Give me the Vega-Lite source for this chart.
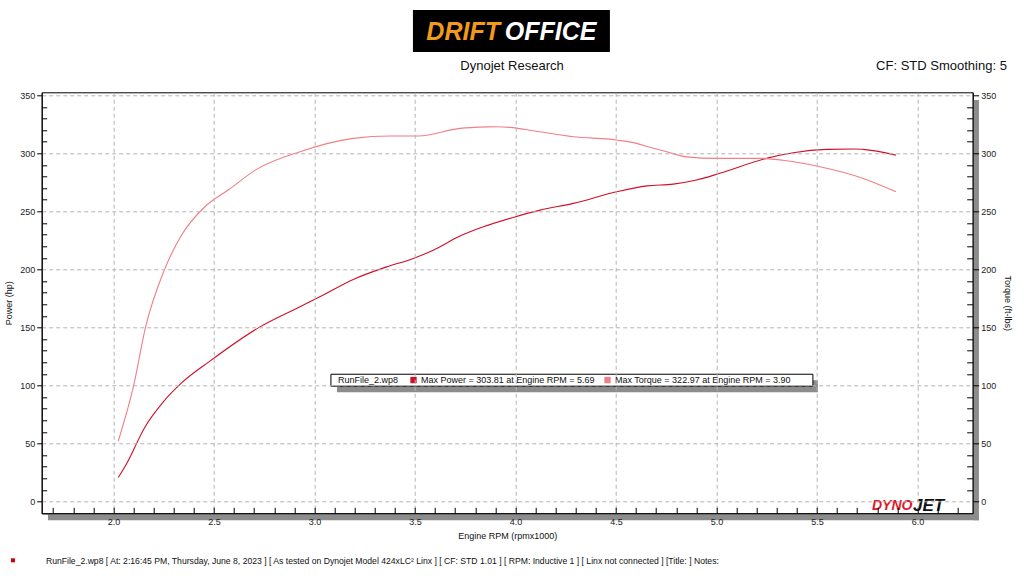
{
  "$schema": "https://vega.github.io/schema/vega-lite/v6.json",
  "width": 931,
  "height": 421,
  "autosize": {"type": "none"},
  "padding": {"left": 41.7, "top": 92.3, "right": 51.3, "bottom": 62.7},
  "background": "white",
  "config": {
    "view": {"stroke": "black", "strokeWidth": 1},
    "font": "Liberation Sans"
  },
  "datasets": {
    "power": [
      {"rpm": 2.024, "hp": 20.7},
      {"rpm": 2.066, "hp": 32.8},
      {"rpm": 2.157, "hp": 64.3},
      {"rpm": 2.248, "hp": 85.9},
      {"rpm": 2.339, "hp": 102.2},
      {"rpm": 2.48, "hp": 121.0},
      {"rpm": 2.729, "hp": 150.5},
      {"rpm": 2.928, "hp": 167.8},
      {"rpm": 3.027, "hp": 176.4},
      {"rpm": 3.193, "hp": 191.4},
      {"rpm": 3.359, "hp": 202.2},
      {"rpm": 3.492, "hp": 209.5},
      {"rpm": 3.591, "hp": 216.6},
      {"rpm": 3.724, "hp": 228.7},
      {"rpm": 3.84, "hp": 236.7},
      {"rpm": 3.989, "hp": 244.8},
      {"rpm": 4.123, "hp": 251.1},
      {"rpm": 4.288, "hp": 256.9},
      {"rpm": 4.503, "hp": 266.9},
      {"rpm": 4.653, "hp": 272.0},
      {"rpm": 4.785, "hp": 273.5},
      {"rpm": 4.901, "hp": 277.0},
      {"rpm": 5.017, "hp": 282.8},
      {"rpm": 5.249, "hp": 295.7},
      {"rpm": 5.382, "hp": 300.5},
      {"rpm": 5.548, "hp": 303.4},
      {"rpm": 5.69, "hp": 303.81},
      {"rpm": 5.73, "hp": 303.4},
      {"rpm": 5.893, "hp": 298.5}
    ],
    "torque": [
      {"rpm": 2.024, "tq": 52.2},
      {"rpm": 2.099, "tq": 98.8},
      {"rpm": 2.16, "tq": 150.5},
      {"rpm": 2.253, "tq": 199.4},
      {"rpm": 2.339, "tq": 229.6},
      {"rpm": 2.455, "tq": 254.0},
      {"rpm": 2.571, "tq": 268.4},
      {"rpm": 2.71, "tq": 286.0},
      {"rpm": 2.928, "tq": 301.4},
      {"rpm": 3.193, "tq": 312.9},
      {"rpm": 3.376, "tq": 315.0},
      {"rpm": 3.517, "tq": 315.0},
      {"rpm": 3.724, "tq": 321.5},
      {"rpm": 3.857, "tq": 322.8},
      {"rpm": 3.9, "tq": 322.97},
      {"rpm": 3.973, "tq": 322.4},
      {"rpm": 4.089, "tq": 319.5},
      {"rpm": 4.288, "tq": 314.3},
      {"rpm": 4.503, "tq": 311.5},
      {"rpm": 4.603, "tq": 308.6},
      {"rpm": 4.669, "tq": 305.2},
      {"rpm": 4.752, "tq": 301.4},
      {"rpm": 4.852, "tq": 297.0},
      {"rpm": 5.001, "tq": 295.7},
      {"rpm": 5.216, "tq": 295.7},
      {"rpm": 5.349, "tq": 293.6},
      {"rpm": 5.515, "tq": 288.4},
      {"rpm": 5.73, "tq": 278.4},
      {"rpm": 5.893, "tq": 266.9}
    ]
  },
  "layer": [
    {
      "layer": [
        {
          "data": {"values": [{}]},
          "mark": {"type": "rect", "color": "#8c8c8c"},
          "encoding": {
            "x": {"datum": 1.674, "type": "quantitative"},
            "x2": {"datum": 6.306},
            "y": {"datum": -10.95, "type": "quantitative"},
            "y2": {"datum": -16.1}
          }
        },
        {
          "data": {"values": [{}]},
          "mark": {"type": "rect", "color": "#8c8c8c"},
          "encoding": {
            "x": {"datum": 6.276, "type": "quantitative"},
            "x2": {"datum": 6.306},
            "y": {"datum": 345.9, "type": "quantitative"},
            "y2": {"datum": -16.1}
          }
        },
        {
          "data": {"values": [{}]},
          "mark": {"type": "rect", "color": "#8c8c8c"},
          "encoding": {
            "x": {"datum": 3.112, "type": "quantitative"},
            "x2": {"datum": 5.505},
            "y": {"datum": 104.6, "type": "quantitative"},
            "y2": {"datum": 94.2}
          }
        },
        {
          "data": {"values": [{}]},
          "mark": {"type": "rect", "fill": "white", "stroke": "black", "strokeWidth": 1},
          "encoding": {
            "x": {"datum": 3.082, "type": "quantitative"},
            "x2": {"datum": 5.48},
            "y": {"datum": 109.7, "type": "quantitative"},
            "y2": {"datum": 99.4}
          }
        },
        {
          "data": {"values": [{}]},
          "mark": {"type": "rect", "color": "black"},
          "encoding": {
            "x": {"datum": 3.49, "type": "quantitative"},
            "x2": {"datum": 4.47},
            "y": {"datum": 423.5, "type": "quantitative"},
            "y2": {"datum": 387.3}
          }
        },
        {
          "data": {"values": [{}]},
          "mark": {"type": "text", "text": "DRIFT", "align": "right", "baseline": "middle", "font": "Liberation Sans", "fontSize": 25, "fontWeight": "bold", "fontStyle": "italic", "color": "#f29a1c"},
          "encoding": {
            "x": {"datum": 3.923, "type": "quantitative"},
            "y": {"datum": 404.6, "type": "quantitative"}
          }
        },
        {
          "data": {"values": [{}]},
          "mark": {"type": "text", "text": "OFFICE", "align": "left", "baseline": "middle", "font": "Liberation Sans", "fontSize": 25, "fontWeight": "bold", "fontStyle": "italic", "color": "white"},
          "encoding": {
            "x": {"datum": 3.947, "type": "quantitative"},
            "y": {"datum": 404.6, "type": "quantitative"}
          }
        },
        {
          "data": {"values": [{}]},
          "mark": {"type": "text", "text": "Dynojet Research", "align": "center", "baseline": "middle", "fontSize": 13, "color": "#111111"},
          "encoding": {
            "x": {"datum": 3.983, "type": "quantitative"},
            "y": {"datum": 375.3, "type": "quantitative"}
          }
        },
        {
          "data": {"values": [{}]},
          "mark": {"type": "text", "text": "CF: STD Smoothing: 5", "align": "right", "baseline": "middle", "fontSize": 13, "color": "#111111"},
          "encoding": {
            "x": {"datum": 6.445, "type": "quantitative"},
            "y": {"datum": 375.3, "type": "quantitative"}
          }
        },
        {
          "data": {"values": [{}]},
          "mark": {"type": "text", "text": "DYNO", "align": "right", "baseline": "middle", "fontSize": 14, "fontWeight": "bold", "fontStyle": "italic", "color": "#e0182c"},
          "encoding": {
            "x": {"datum": 5.975, "type": "quantitative"},
            "y": {"datum": -4.05, "type": "quantitative"}
          }
        },
        {
          "data": {"values": [{}]},
          "mark": {"type": "text", "text": "JET", "align": "left", "baseline": "middle", "fontSize": 17, "fontWeight": "bold", "fontStyle": "italic", "color": "#111111"},
          "encoding": {
            "x": {"datum": 5.978, "type": "quantitative"},
            "y": {"datum": -4.05, "type": "quantitative"}
          }
        },
        {
          "data": {"values": [{}]},
          "mark": {"type": "point", "shape": "square", "size": 16, "filled": true, "color": "#cc0000", "opacity": 1},
          "encoding": {
            "x": {"datum": 1.5, "type": "quantitative"},
            "y": {"datum": -50.6, "type": "quantitative"}
          }
        },
        {
          "data": {"values": [{}]},
          "mark": {"type": "text", "text": "RunFile_2.wp8 [ At: 2:16:45 PM, Thursday, June 8, 2023 ] [ As tested on Dynojet Model 424xLC² Linx ] [ CF: STD 1.01 ] [ RPM: Inductive 1 ] [ Linx not connected ] [Title: ]  Notes:", "align": "left", "baseline": "middle", "fontSize": 8.65, "color": "#111111"},
          "encoding": {
            "x": {"datum": 1.664, "type": "quantitative"},
            "y": {"datum": -51.5, "type": "quantitative"}
          }
        },
        {
          "data": {"name": "power"},
          "mark": {"type": "line", "strokeWidth": 1.1, "interpolate": "monotone"},
          "encoding": {
            "x": {
              "field": "rpm", "type": "quantitative",
              "scale": {"domain": [1.643, 6.275], "nice": false, "zero": false},
              "axis": {
                "title": "Engine RPM (rpmx1000)",
                "values": [1.7, 1.8, 1.9, 2.0, 2.1, 2.2, 2.3, 2.4, 2.5, 2.6, 2.7, 2.8, 2.9, 3.0, 3.1, 3.2, 3.3, 3.4, 3.5, 3.6, 3.7, 3.8, 3.9, 4.0, 4.1, 4.2, 4.3, 4.4, 4.5, 4.6, 4.7, 4.8, 4.9, 5.0, 5.1, 5.2, 5.3, 5.4, 5.5, 5.6, 5.7, 5.8, 5.9, 6.0, 6.1, 6.2],
                "tickCount": 1000,
                "format": ".1f",
                "labelExpr": "round(datum.value*10) % 5 == 0 ? datum.label : ''",
                "tickSize": -6,
                "tickColor": "black",
                "domainColor": "black",
                "grid": true,
                "gridColor": {"condition": {"test": "round(datum.value*10) % 5 == 0", "value": "#b4b4b4"}, "value": "rgba(0,0,0,0)"},
                "gridDash": [4, 3],
                "gridOpacity": {"condition": {"test": "round(datum.value*10) % 5 == 0", "value": 1}, "value": 0},
                "labelFontSize": 9,
                "labelColor": "#222222",
                "labelPadding": 10,
                "labelFlush": false,
                "labelOverlap": false,
                "titleFontSize": 9,
                "titleFontWeight": "normal",
                "titleColor": "#111111",
                "titlePadding": 5,
                "zindex": 1
              }
            },
            "y": {
              "field": "hp", "type": "quantitative",
              "scale": {"domain": [-10.1, 352.6], "nice": false, "zero": false},
              "axis": {
                "title": "Power (hp)",
                "orient": "left",
                "values": [0, 10, 20, 30, 40, 50, 60, 70, 80, 90, 100, 110, 120, 130, 140, 150, 160, 170, 180, 190, 200, 210, 220, 230, 240, 250, 260, 270, 280, 290, 300, 310, 320, 330, 340, 350],
                "tickCount": 1000,
                "format": "d",
                "labelExpr": "datum.value % 50 == 0 ? datum.label : ''",
                "tickSize": {"condition": {"test": "datum.value % 50 == 0", "value": 5}, "value": -5},
                "tickColor": "black",
                "domainColor": "black",
                "grid": true,
                "gridColor": {"condition": {"test": "datum.value % 50 == 0", "value": "#b4b4b4"}, "value": "rgba(0,0,0,0)"},
                "gridDash": [4, 3],
                "gridOpacity": {"condition": {"test": "datum.value % 50 == 0", "value": 1}, "value": 0},
                "labelFontSize": 9,
                "labelColor": "#222222",
                "labelPadding": 2,
                "labelFlush": false,
                "labelOverlap": false,
                "titleFontSize": 9,
                "titleFontWeight": "normal",
                "titleColor": "#111111",
                "titlePadding": 6,
                "zindex": 1
              }
            },
            "color": {
              "datum": "Power",
              "scale": {"domain": ["Power", "Torque"], "range": ["#d0102a", "#f07f86"]},
              "legend": {
                "orient": "none",
                "legendX": 296.3,
                "legendY": 283,
                "direction": "horizontal",
                "title": "RunFile_2.wp8",
                "titleOrient": "left",
                "titleFontSize": 9,
                "titleFontWeight": "normal",
                "titleColor": "#111111",
                "titlePadding": 10,
                "labelExpr": "datum.label == 'Power' ? 'Max Power = 303.81 at Engine RPM = 5.69' : 'Max Torque = 322.97 at Engine RPM = 3.90'",
                "labelFontSize": 9,
                "labelColor": "#111111",
                "labelLimit": 400,
                "labelOffset": 3,
                "symbolType": "square",
                "symbolSize": 40,
                "symbolStrokeWidth": 0,
                "padding": 0,
                "columnPadding": 8,
                "encode": {"symbols": {"update": {"fill": {"scale": "color", "field": "value"}, "stroke": {"value": "transparent"}, "opacity": {"value": 1}}}}
              }
            }
          }
        }
      ]
    },
    {
      "data": {"name": "torque"},
      "mark": {"type": "line", "strokeWidth": 1.1, "interpolate": "monotone"},
      "encoding": {
        "x": {
          "field": "rpm", "type": "quantitative",
          "scale": {"domain": [1.643, 6.275], "nice": false, "zero": false},
          "axis": {
            "title": "Engine RPM (rpmx1000)",
            "values": [1.7, 1.8, 1.9, 2.0, 2.1, 2.2, 2.3, 2.4, 2.5, 2.6, 2.7, 2.8, 2.9, 3.0, 3.1, 3.2, 3.3, 3.4, 3.5, 3.6, 3.7, 3.8, 3.9, 4.0, 4.1, 4.2, 4.3, 4.4, 4.5, 4.6, 4.7, 4.8, 4.9, 5.0, 5.1, 5.2, 5.3, 5.4, 5.5, 5.6, 5.7, 5.8, 5.9, 6.0, 6.1, 6.2],
            "tickCount": 1000,
            "format": ".1f",
            "labelExpr": "round(datum.value*10) % 5 == 0 ? datum.label : ''",
            "tickSize": -6,
            "tickColor": "black",
            "domainColor": "black",
            "grid": true,
            "gridColor": {"condition": {"test": "round(datum.value*10) % 5 == 0", "value": "#b4b4b4"}, "value": "rgba(0,0,0,0)"},
            "gridDash": [4, 3],
            "gridOpacity": {"condition": {"test": "round(datum.value*10) % 5 == 0", "value": 1}, "value": 0},
            "labelFontSize": 9,
            "labelColor": "#222222",
            "labelPadding": 10,
            "labelFlush": false,
            "labelOverlap": false,
            "titleFontSize": 9,
            "titleFontWeight": "normal",
            "titleColor": "#111111",
            "titlePadding": 5,
            "zindex": 1
          }
        },
        "y": {
          "field": "tq", "type": "quantitative",
          "scale": {"domain": [-10.1, 352.6], "nice": false, "zero": false},
          "axis": {
            "title": "Torque (ft-lbs)",
            "orient": "right",
            "titleAngle": 90,
            "values": [0, 10, 20, 30, 40, 50, 60, 70, 80, 90, 100, 110, 120, 130, 140, 150, 160, 170, 180, 190, 200, 210, 220, 230, 240, 250, 260, 270, 280, 290, 300, 310, 320, 330, 340, 350],
            "tickCount": 1000,
            "format": "d",
            "labelExpr": "datum.value % 50 == 0 ? datum.label : ''",
            "tickSize": {"condition": {"test": "datum.value % 50 == 0", "value": 6}, "value": -6},
            "tickColor": "black",
            "domainColor": "black",
            "grid": false,
            "labelFontSize": 9,
            "labelColor": "#222222",
            "labelPadding": 2,
            "labelFlush": false,
            "labelOverlap": false,
            "titleFontSize": 9,
            "titleFontWeight": "normal",
            "titleColor": "#111111",
            "titlePadding": 7,
            "zindex": 1
          }
        },
        "color": {"datum": "Torque"}
      }
    }
  ],
  "resolve": {"scale": {"y": "independent"}}
}
